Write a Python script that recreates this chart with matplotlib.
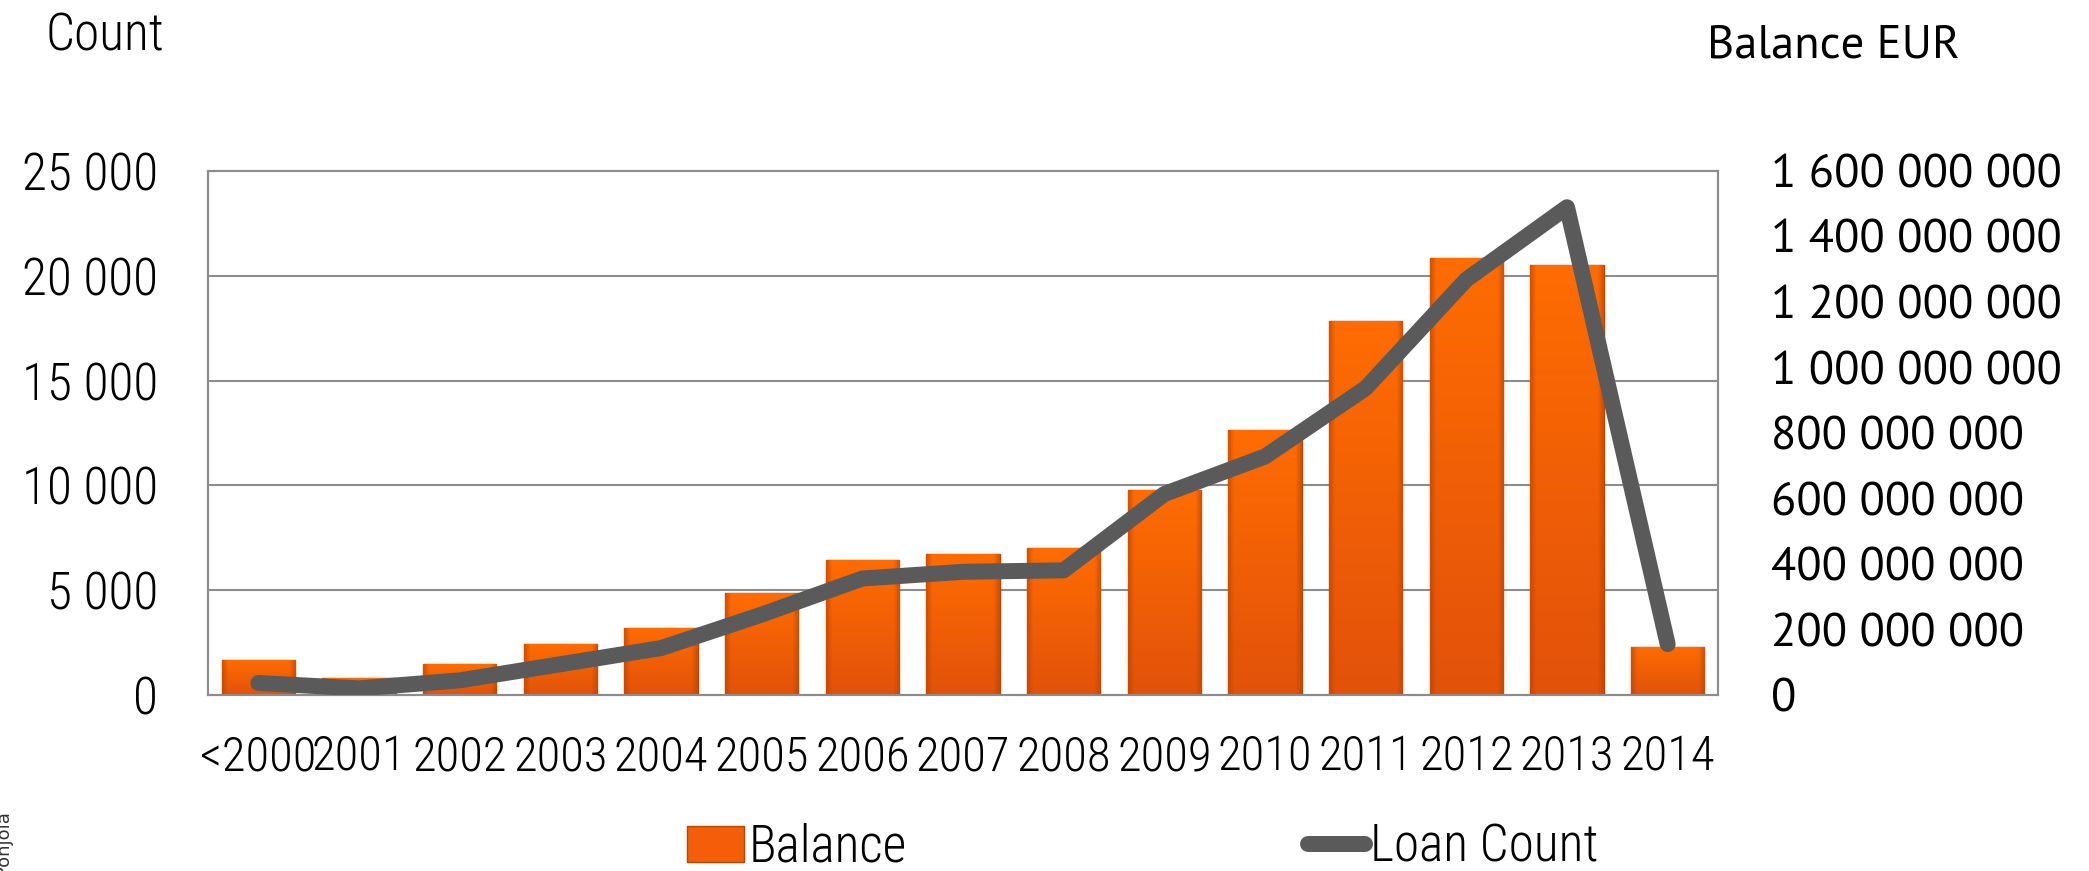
import matplotlib.pyplot as plt
import numpy as np
from matplotlib import font_manager
from matplotlib.colors import to_rgb
from matplotlib.ticker import FuncFormatter

years = ['<2000', '2001', '2002', '2003', '2004', '2005', '2006', '2007',
         '2008', '2009', '2010', '2011', '2012', '2013', '2014']
balance = [106e6, 53e6, 94e6, 155e6, 205e6, 311e6, 413e6, 430e6,
           450e6, 626e6, 810e6, 1142e6, 1334e6, 1314e6, 147e6]  # EUR
loan_count = [575, 320, 700, 1470, 2240, 3840, 5560, 5880,
              5950, 9590, 11380, 14640, 19820, 23270, 2430]

regular = set(f.name for f in font_manager.fontManager.ttflist
              if f.weight in (400, 'normal', 'regular') and f.style == 'normal')
installed = set(f.name for f in font_manager.fontManager.ttflist)


def pick(cands, pool):
    for c in cands:
        if c in pool:
            return c
    return 'DejaVu Sans'


narrow = pick(['Roboto Condensed', 'Archivo Narrow', 'PT Sans Narrow',
               'Barlow Condensed', 'IBM Plex Sans Condensed', 'Open Sans'], installed)
myriad = pick(['Source Sans 3', 'Source Sans Pro', 'PT Sans', 'Fira Sans',
               'Noto Sans'], regular)
plt.rcParams['font.family'] = [narrow, 'DejaVu Sans']
plt.rcParams['font.weight'] = 'light'
fs = 37
fs_right = 33.5


def spaced(v, pos):
    return '{:,.0f}'.format(v).replace(',', ' ')


fig = plt.figure(figsize=(20.89, 8.71), dpi=100)
rect = [0.0996, 0.202, 0.7228, 0.6017]
ax2 = fig.add_axes(rect)        # bars, right axis
ax = fig.add_axes(rect)         # line, left axis
ax.patch.set_visible(False)

x = np.arange(len(years))
bars = ax2.bar(x, balance, width=0.73, color='#F45E08', edgecolor='#B84600',
               linewidth=1.0, zorder=2, label='Balance')

# orange gradient inside each bar
top_c = np.array(to_rgb('#FF6C02'))
bot_c = np.array(to_rgb('#E2520A'))
edge_c = np.array(to_rgb('#B84300'))
rows = np.linspace(0, 1, 60)[:, None, None]
cols = np.abs(np.linspace(-1, 1, 40))[None, :, None]
grad = top_c * (1 - rows) + bot_c * rows
shade = np.clip((cols - 0.85) / 0.15, 0, 1) * 0.6
grad = grad * (1 - shade) + edge_c * shade
for b in bars:
    im = ax2.imshow(grad, extent=(b.get_x(), b.get_x() + b.get_width(), 0, b.get_height()),
                    origin='upper', aspect='auto', zorder=2.5, interpolation='bilinear')
    im.set_clip_path(b)

ax2.set_ylim(0, 1.6e9)
ax2.set_yticks(np.arange(0, 1.6e9 + 1, 2e8))
ax2.set_yticks(np.linspace(0, 1.6e9, 6), minor=True)  # grid follows left axis
ax2.yaxis.tick_right()
ax2.yaxis.set_major_formatter(FuncFormatter(spaced))
ax2.set_xlim(-0.5, len(years) - 0.5)
ax2.set_xticks(x)
ax2.set_xticklabels(years)
ax2.tick_params(axis='y', which='both', length=0, pad=38, labelsize=fs_right)
ax2.tick_params(axis='x', length=0, pad=28, labelsize=35)
for t in ax2.get_yticklabels():
    t.set_horizontalalignment('left')
    t.set_family([myriad, 'DejaVu Sans'])
    t.set_fontweight('normal')
ax2.grid(axis='y', which='minor', color='#8C8C8C', linewidth=1.5, zorder=0)
ax2.set_axisbelow(True)

ax.plot(x, loan_count, color='#5A5A5A', linewidth=11.5,
        solid_capstyle='round', solid_joinstyle='round', zorder=3,
        label='Loan Count')
ax.set_ylim(0, 25000)
ax.set_xlim(-0.5, len(years) - 0.5)
ax.set_yticks(np.arange(0, 25001, 5000))
ax.yaxis.set_major_formatter(FuncFormatter(spaced))
ax.set_xticks([])
ax.tick_params(axis='y', length=0, pad=36, labelsize=fs)

for a in (ax2, ax):
    for s in a.spines.values():
        s.set_color('#8C8C8C')
        s.set_linewidth(1.5)

fig.text(0.022, 0.987, 'Count', fontsize=fs, va='top', ha='left')
fig.text(0.817, 0.972, 'Balance EUR', fontsize=fs_right, va='top', ha='left',
         family=[myriad, 'DejaVu Sans'], fontweight='normal')
fig.text(-0.002, 0.068, '© OP-Pohjola', fontsize=13, rotation=90, color='#333333',
         va='top', ha='left', family='DejaVu Sans', fontweight='normal')

h1, l1 = ax2.get_legend_handles_labels()
h2, l2 = ax.get_legend_handles_labels()
fig.legend(h1 + h2, l1 + l2, loc='lower center', bbox_to_anchor=(0.547, -0.055),
           ncol=2, frameon=False, fontsize=fs, handlelength=1.1,
           handleheight=0.7, handletextpad=0.1, columnspacing=7.8)

fig.savefig('out.png', dpi=100)
